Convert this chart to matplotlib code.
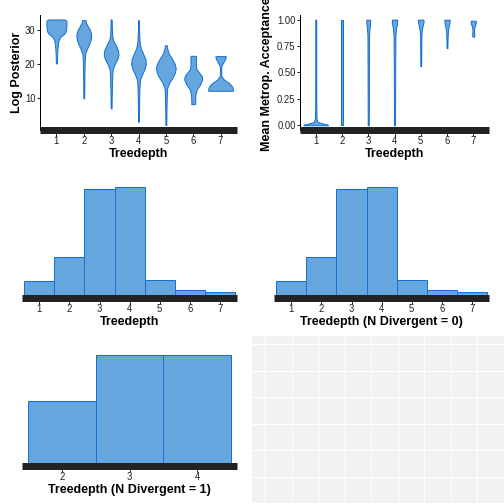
import numpy as np
import matplotlib
matplotlib.use("Agg")
import matplotlib.pyplot as plt

plt.rcParams.update({
    'font.family': ['Liberation Sans', 'DejaVu Sans'],
    'font.size': 9.5,
})

FILL = "#66a6df"
EDGE = "#1670d2"
BAR = "#222222"
TEXT = "#1e1e1e"

TREEDEPTH = [1, 2, 3, 4, 5, 6, 7]

# violin outlines (value grid, half width in category units), log posterior by treedepth
LP_Y = [
    [20.2, 22, 24, 26, 27, 28, 28.8, 29.5, 30.5, 32, 32.7, 33.0],
    [10, 14, 18, 21, 23, 24.5, 25.5, 27, 28, 29, 30, 31, 32, 32.8],
    [7.1, 10, 14, 17, 18.5, 20, 21.5, 22.8, 24, 25.5, 27, 28.5, 30.5, 33],
    [3.2, 6, 10, 13, 15.5, 17, 18.5, 20, 21.5, 23, 24.5, 26, 28, 30, 32.8],
    [2.2, 5, 8, 11, 13, 14.5, 16, 17.5, 18.7, 20, 21.5, 23, 24.5, 25.5],
    [8.3, 9.5, 11, 12.5, 14, 15.5, 16.5, 17.5, 18.5, 19.5, 21, 22.4],
    [12.2, 12.8, 13.5, 14.5, 15.5, 16.5, 18, 19.5, 20.5, 21.5, 22.3],
]
LP_W = [
    [0.02, 0.025, 0.035, 0.06, 0.08, 0.15, 0.28, 0.34, 0.36, 0.37, 0.36, 0.30],
    [0.015, 0.02, 0.025, 0.035, 0.05, 0.12, 0.18, 0.25, 0.27, 0.26, 0.22, 0.15, 0.08, 0.065],
    [0.015, 0.02, 0.03, 0.04, 0.06, 0.13, 0.23, 0.27, 0.25, 0.17, 0.07, 0.035, 0.025, 0.02],
    [0.015, 0.02, 0.025, 0.035, 0.06, 0.13, 0.22, 0.27, 0.25, 0.17, 0.09, 0.045, 0.03, 0.02, 0.015],
    [0.015, 0.02, 0.025, 0.035, 0.05, 0.12, 0.24, 0.33, 0.36, 0.33, 0.23, 0.11, 0.05, 0.03],
    [0.07, 0.07, 0.08, 0.12, 0.25, 0.33, 0.31, 0.22, 0.12, 0.10, 0.10, 0.10],
    [0.45, 0.45, 0.42, 0.30, 0.12, 0.03, 0.02, 0.03, 0.10, 0.17, 0.19],
]

# mean metropolis acceptance by treedepth
ACC_Y = [
    [0, 0.005, 0.015, 0.03, 0.06, 0.2, 0.5, 0.8, 1.0],
    [0, 0.5, 1.0],
    [0, 0.5, 0.85, 0.92, 0.97, 1.0],
    [0, 0.5, 0.85, 0.92, 0.97, 1.0],
    [0.56, 0.7, 0.85, 0.9, 0.94, 0.97, 0.99, 1.0],
    [0.73, 0.8, 0.87, 0.92, 0.95, 0.98, 1.0],
    [0.84, 0.86, 0.89, 0.92, 0.95, 0.97, 0.99],
]
ACC_W = [
    [0.46, 0.46, 0.3, 0.08, 0.03, 0.02, 0.018, 0.018, 0.018],
    [0.035, 0.035, 0.035],
    [0.02, 0.025, 0.03, 0.05, 0.075, 0.07],
    [0.02, 0.025, 0.035, 0.06, 0.1, 0.1],
    [0.015, 0.02, 0.025, 0.04, 0.07, 0.1, 0.11, 0.1],
    [0.015, 0.02, 0.03, 0.05, 0.08, 0.1, 0.1],
    [0.035, 0.04, 0.03, 0.035, 0.07, 0.1, 0.09],
]

# treedepth counts, all draws and N divergent = 0
TD_COUNTS = [194, 523, 1483, 1507, 199, 59, 35]
TD_COUNTS_DIV0 = [194, 523, 1483, 1507, 199, 59, 35]
# N divergent = 1
TD_DIV1 = [2, 3, 4]
TD_COUNTS_DIV1 = [4, 7, 7]

W = H = 504


def px_axes(fig, left, right, top, bottom):
    return fig.add_axes([left / W, (H - bottom) / H, (right - left) / W, (bottom - top) / H])


def fig_text(fig, x, y, s, **kw):
    fig.text(x / W, (H - y) / H, s, **kw)


def style_axes(ax, yaxis=True):
    for s in ("top", "right"):
        ax.spines[s].set_visible(False)
    ax.spines["bottom"].set_linewidth(7)
    ax.spines["bottom"].set_color(BAR)
    ax.spines["bottom"].set_capstyle("butt")
    ax.tick_params(axis="x", length=6, width=1, color=BAR, pad=0.5, labelcolor=TEXT, labelsize=9.5)
    if yaxis:
        ax.spines["left"].set_linewidth(1)
        ax.spines["left"].set_color("black")
        ax.tick_params(axis="y", length=3, width=1, color=BAR, pad=1.5, labelcolor=TEXT, labelsize=9.5)
    else:
        ax.spines["left"].set_visible(False)
        ax.set_yticks([])
    ax.set_facecolor("none")


def violins(ax, ys, ws):
    for x, yv, wv in zip(TREEDEPTH, ys, ws):
        yv = np.asarray(yv); wv = np.asarray(wv)
        ax.fill_betweenx(yv, x - wv, x + wv, facecolor=FILL, edgecolor=EDGE, linewidth=1)


def hist(ax, xs, counts, xlim):
    m = max(counts)
    ax.bar(xs, counts, width=1, facecolor=FILL, edgecolor=EDGE, linewidth=1)
    ax.set_xlim(*xlim)
    ax.set_ylim(-3.5 / 107.2 * m, 114.5 / 107.2 * m)
    ax.set_xticks(xs)


fig = plt.figure(figsize=(7, 7), dpi=72)
label_kw = dict(fontsize=12.5, fontweight="bold", color="black")
xlab_kw = dict(ha="center", va="baseline", **label_kw)

# (1) log posterior violins
ax1 = px_axes(fig, 40, 237, 15, 129.7)
violins(ax1, LP_Y, LP_W)
ax1.set_xlim(0.4, 7.6)
ax1.set_ylim(0.85, 34.3)
ax1.set_xticks(TREEDEPTH)
ax1.set_yticks([10, 20, 30])
style_axes(ax1)
fig_text(fig, 138.5, 157, "Treedepth", **xlab_kw)
fig_text(fig, 17, 72, "Log Posterior", rotation=90, ha="center", va="center", **label_kw)

# (2) acceptance violins
ax2 = px_axes(fig, 300, 489, 15, 129.7)
violins(ax2, ACC_Y, ACC_W)
ax2.set_xlim(0.4, 7.6)
ax2.set_ylim(-0.042, 1.044)
ax2.set_xticks(TREEDEPTH)
ax2.set_yticks([0, 0.25, 0.5, 0.75, 1.0])
ax2.set_yticklabels(["0.00", "0.25", "0.50", "0.75", "1.00"])
style_axes(ax2)
fig_text(fig, 394.5, 157, "Treedepth", **xlab_kw)
fig_text(fig, 267, 151, "Mean Metrop. Acceptance", rotation=90, ha="center", va="bottom", **label_kw)

# (3) treedepth histogram
ax3 = px_axes(fig, 21.7, 237.3, 180, 298)
hist(ax3, TREEDEPTH, TD_COUNTS, (0.414, 7.577))
style_axes(ax3, yaxis=False)
fig_text(fig, 129.5, 325, "Treedepth", **xlab_kw)

# (4) treedepth histogram, N divergent = 0
ax4 = px_axes(fig, 273.7, 489.3, 180, 298)
hist(ax4, TREEDEPTH, TD_COUNTS_DIV0, (0.414, 7.577))
style_axes(ax4, yaxis=False)
fig_text(fig, 381.5, 325, "Treedepth (N Divergent = 0)", **xlab_kw)

# (5) treedepth histogram, N divergent = 1
ax5 = px_axes(fig, 21.7, 237.3, 348, 466)
hist(ax5, TD_DIV1, TD_COUNTS_DIV1, (1.402, 4.598))
style_axes(ax5, yaxis=False)
fig_text(fig, 129.5, 493, "Treedepth (N Divergent = 1)", **xlab_kw)

# (6) blank grey panel
ax6 = px_axes(fig, 252, 520, 336, 520)
ax6.set_facecolor("#f2f2f2")
ax6.set_xlim(252, 520)
ax6.set_ylim(520, 336)
ax6.set_xticks(np.arange(265.3, 520, 26.5))
ax6.set_yticks(np.arange(344, 520, 26.5))
ax6.grid(True, color="white", linewidth=1.1)
ax6.tick_params(length=0, labelbottom=False, labelleft=False)
for s in ax6.spines.values():
    s.set_visible(False)

fig.savefig("out.png", dpi=72)
